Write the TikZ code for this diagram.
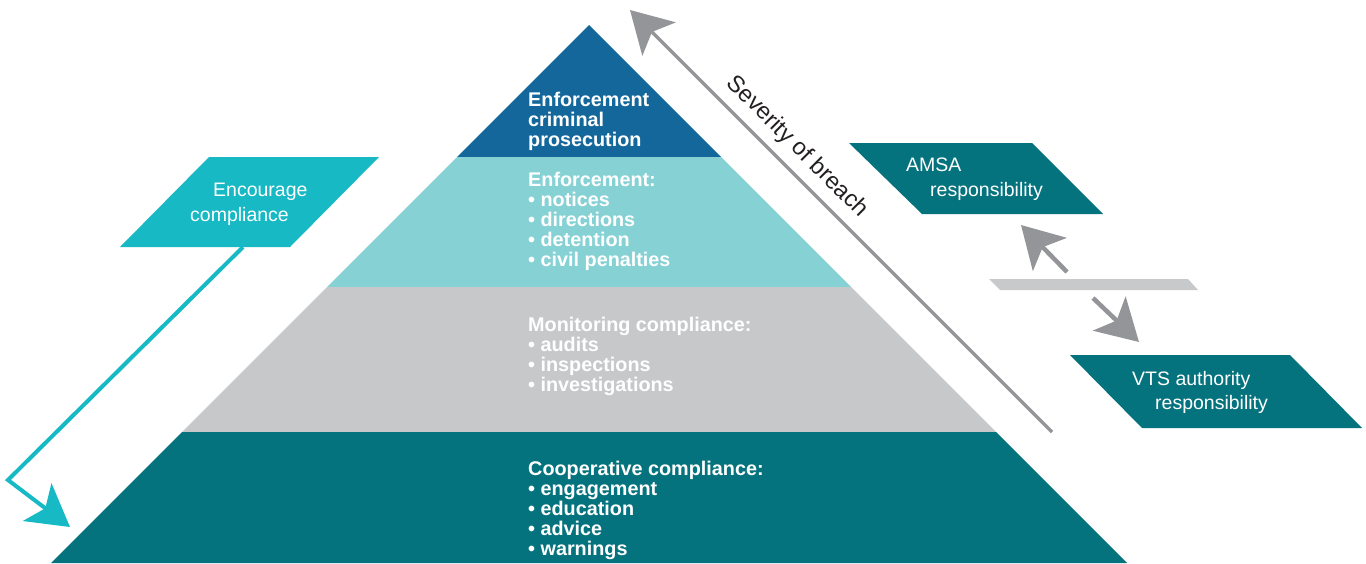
\documentclass[tikz,border=0pt]{standalone}
\usepackage{fontspec}
\setmainfont{Liberation Sans}
\usetikzlibrary{positioning, arrows.meta, calc}
\definecolor{tierTop}{HTML}{13679B}
\definecolor{tierEnforce}{HTML}{85D1D4}
\definecolor{tierMonitor}{HTML}{C7C8CA}
\definecolor{tierCoop}{HTML}{05737E}
\definecolor{encourageCyan}{HTML}{16B9C4}
\definecolor{arrowGrey}{HTML}{939598}
\definecolor{barGrey}{HTML}{C8C9CB}
\definecolor{inkDark}{HTML}{231F20}
\tikzstyle{tierText} =[anchor=north west, inner sep=0pt, align=left, text=white, font=\fontsize{19.8}{20}\selectfont\bfseries]
\tikzstyle{calloutText} =[anchor=north west, inner sep=0pt, align=left, text=white, font=\fontsize{19.5}{24.5}\selectfont]
\tikzstyle{greyArrow} =[-{Stealth[length=41pt, width=47pt, inset=10pt]}, line width=4.5pt, arrowGrey]

\begin{document}
\begin{tikzpicture}[x=1pt, y=-1pt]
\useasboundingbox (0,0) rectangle (1366,563);

% pyramid tiers, 45 degree sides from the apex at (589,25)
\foreach \ya/\yb/\tier in {25/157/tierTop, 157/287/tierEnforce, 287/432/tierMonitor, 432/563/tierCoop}
	\fill[\tier] ({589-\ya+25},\ya) -- ({589+\ya-25},\ya) -- ({589+\yb-25},\yb) -- ({589-\yb+25},\yb) -- cycle;

\node (prosecution) [tierText] at (528,92) {Enforcement\\criminal\\prosecution};
\node (enforcement) [tierText] at (528,172) {Enforcement:\\• notices\\• directions\\• detention\\• civil penalties};
\node (monitoring) [tierText] at (528,317) {Monitoring compliance:\\• audits\\• inspections\\• investigations};
\node (cooperative) [tierText] at (528,461) {Cooperative compliance:\\• engagement\\• education\\• advice\\• warnings};

% severity arrow along the right flank
\coordinate (severityTail) at (1052,432);
\coordinate (severityHead) at (630,10);
\draw[greyArrow, line width=3.5pt] (severityTail) -- (severityHead);
\node (severity) [rotate=-45, inner sep=0pt, text=inkDark, font=\fontsize{23.5}{23.5}\selectfont] at (797,147) {Severity of breach};

% encourage compliance
\fill[encourageCyan] (120,247) -- (209,157) -- (379,157) -- (290,247) -- cycle;
\node (encourage) [calloutText] at (190,183) {\hspace*{23pt}Encourage\\compliance};
\coordinate (encourageFoot) at (243,247);
\coordinate (encourageBend) at (8,480);
\coordinate (encourageTip) at (70,527);
\draw[-{Stealth[length=41pt, width=47pt, inset=10pt]}, line width=4pt, encourageCyan]
	(encourageFoot) -- (encourageBend) -- (encourageTip);

% responsibilities
\fill[tierCoop] (849,143) -- (1032,143) -- (1103,214) -- (922,214) -- cycle;
\node (amsa) [calloutText] at (906,158) {AMSA\\\hspace*{24pt}responsibility};

\fill[tierCoop] (1070,355) -- (1290,355) -- (1362,428) -- (1142,428) -- cycle;
\node (vts) [calloutText] at (1132,371) {VTS authority\\\hspace*{23pt}responsibility};

\fill[barGrey] (989,279) -- (1188,279) -- (1198,290) -- (1000,290) -- cycle;
\coordinate (upTail) at (1067,272);
\coordinate (upHead) at (1021,225);
\coordinate (downTail) at (1093,298);
\coordinate (downHead) at (1139,342);
\draw[greyArrow] (upTail) -- (upHead);
\draw[greyArrow] (downTail) -- (downHead);
\end{tikzpicture}
\end{document}
